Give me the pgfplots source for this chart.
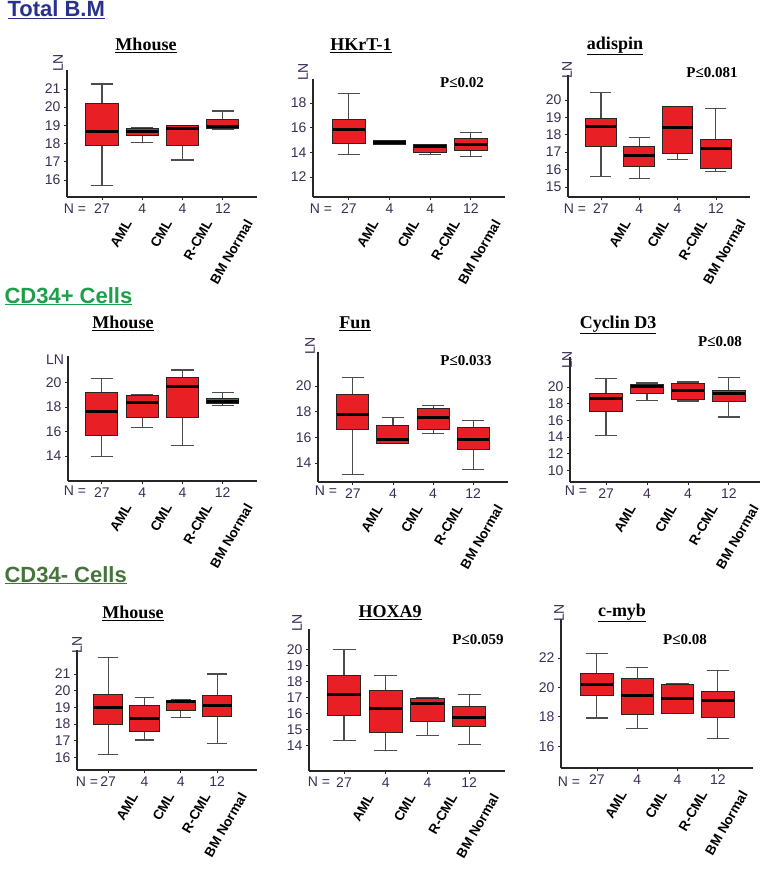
\documentclass[border=0pt]{standalone}
\usepackage{fontspec}
\setmainfont{Liberation Serif}
\setsansfont{Liberation Sans}
\usepackage{pgfplots}
\pgfplotsset{compat=1.18}
\usepgfplotslibrary{statistics}
\definecolor{boxred}{RGB}{232,32,38}
\definecolor{tickcol}{RGB}{60,45,85}
\definecolor{hblue}{RGB}{40,50,140}
\definecolor{hgreen}{RGB}{30,158,75}
\definecolor{holive}{RGB}{70,115,60}
\pgfplotsset{panel/.style={
 scale only axis, anchor=south west, clip=false,
 axis x line=bottom, axis y line=left,
 axis line style={-, line width=1.2pt, black!85},
 xtick={1,2,3,4}, xticklabels={27,4,4,12},
 tick align=outside, major tick length=3pt,
 every tick/.style={black!85, line width=0.8pt},
 tick label style={font=\fontsize{14}{14}\selectfont\sffamily, text=tickcol},
 /pgf/number format/assume math mode=true,
 extra x ticks={1,2,3,4},
 extra x tick labels={AML,CML,R-CML,BM Normal},
 extra x tick style={major tick length=0pt, xticklabel style={xshift=28pt, yshift=-21pt, rotate=60, anchor=east, font=\fontsize{13.5}{13.5}\selectfont\sffamily\bfseries, text=black}},
 boxplot/draw direction=y,
 boxplot/box extend=0.8, boxplot/whisker extend=0.55,
 boxplot/every box/.style={fill=boxred, draw=black!85, line width=1pt},
 boxplot/every median/.style={draw=black, line width=3pt},
 boxplot/every whisker/.style={draw=black!70, line width=1.1pt},
}}
\newcommand{\bx}[6]{\addplot[boxplot prepared={draw position=#1, lower whisker=#2, lower quartile=#3, median=#4, upper quartile=#5, upper whisker=#6}] coordinates {};}
\tikzset{ttl/.style={font=\fontsize{18}{18}\selectfont\bfseries},
 pv/.style={font=\fontsize{15}{15}\selectfont\bfseries},
 ln/.style={font=\fontsize{14}{14}\selectfont\sffamily, text=tickcol},
 nn/.style={font=\fontsize{14}{14}\selectfont\sffamily, text=tickcol}}
\begin{document}
\begin{tikzpicture}
\path[use as bounding box] (0pt,0pt) rectangle (763pt,-885pt);
% headings
\node[anchor=base west, font=\fontsize{22}{22}\selectfont\sffamily\bfseries, text=hblue] at (4pt,-17pt) {\underline{Total B.M}};
\node[anchor=base west, font=\fontsize{22}{22}\selectfont\sffamily\bfseries, text=hgreen] at (1pt,-303pt) {\underline{CD34+ Cells}};
\node[anchor=base west, font=\fontsize{22}{22}\selectfont\sffamily\bfseries, text=holive] at (1pt,-582pt) {\underline{CD34- Cells}};
% ---------- Row 1
\begin{axis}[panel, at={(67pt,-197pt)}, width=190pt, height=127pt,
 xmin=0.13, xmax=4.85, ymin=15.07, ymax=22.04, ytick={16,17,18,19,20,21}]
\bx{1}{15.71}{17.89}{18.64}{20.18}{21.27}
\bx{2}{18.05}{18.44}{18.64}{18.84}{18.88}
\bx{3}{17.10}{17.89}{18.84}{18.97}{19.00}
\bx{4}{18.80}{18.82}{18.95}{19.33}{19.79}
\end{axis}
\begin{axis}[panel, at={(313pt,-197pt)}, width=192pt, height=118pt,
 xmin=0.12, xmax=4.84, ymin=10.37, ymax=19.96, ytick={12,14,16,18}]
\bx{1}{13.85}{14.72}{15.87}{16.69}{18.76}
\bx{2}{14.67}{14.67}{14.81}{14.94}{14.94}
\bx{3}{13.85}{14.02}{14.45}{14.62}{14.62}
\bx{4}{13.63}{14.13}{14.64}{15.13}{15.60}
\end{axis}
\begin{axis}[panel, at={(568pt,-197pt)}, width=182pt, height=122pt,
 xmin=0.14, xmax=4.89, ymin=14.42, ymax=21.44, ytick={15,16,17,18,19,20}]
\bx{1}{15.58}{17.31}{18.46}{18.94}{20.42}
\bx{2}{15.48}{16.15}{16.81}{17.31}{17.85}
\bx{3}{16.60}{16.92}{18.40}{19.62}{19.62}
\bx{4}{15.88}{16.06}{17.21}{17.73}{19.52}
\end{axis}
% ---------- Row 2
\begin{axis}[panel, at={(68pt,-481pt)}, width=189pt, height=125pt,
 xmin=0.16, xmax=4.85, ymin=11.96, ymax=22.15, ytick={14,16,18,20}]
\bx{1}{13.95}{15.66}{17.61}{19.19}{20.28}
\bx{2}{16.34}{17.10}{18.38}{18.97}{18.97}
\bx{3}{14.84}{17.10}{19.65}{20.41}{21.01}
\bx{4}{18.08}{18.29}{18.43}{18.70}{19.16}
\end{axis}
\begin{axis}[panel, at={(318pt,-482pt)}, width=190pt, height=130pt,
 xmin=0.13, xmax=4.87, ymin=12.53, ymax=22.66, ytick={14,16,18,20}]
\bx{1}{13.10}{16.64}{17.80}{19.32}{20.67}
\bx{2}{15.55}{15.55}{15.86}{16.92}{17.57}
\bx{3}{16.33}{16.64}{17.54}{18.29}{18.52}
\bx{4}{13.48}{15.09}{15.83}{16.74}{17.33}
\end{axis}
\begin{axis}[panel, at={(570pt,-482pt)}, width=190pt, height=125pt,
 xmin=0.12, xmax=4.76, ymin=8.6, ymax=23.6, ytick={10,12,14,16,18,20}]
\bx{1}{14.16}{17.12}{18.60}{19.20}{21.00}
\bx{2}{18.40}{19.20}{20.08}{20.28}{20.48}
\bx{3}{18.32}{18.48}{19.60}{20.40}{20.60}
\bx{4}{16.40}{18.32}{19.20}{19.60}{21.12}
\end{axis}
% ---------- Row 3
\begin{axis}[panel, at={(77pt,-770pt)}, width=180pt, height=120pt,
 xmin=0.14, xmax=5.1, ymin=15.24, ymax=22.44, ytick={16,17,18,19,20,21}]
\bx{1}{16.18}{18.00}{18.98}{19.80}{21.98}
\bx{2}{17.04}{17.54}{18.34}{19.12}{19.58}
\bx{3}{18.40}{18.82}{19.34}{19.44}{19.44}
\bx{4}{16.82}{18.46}{19.10}{19.72}{21.00}
\end{axis}
\begin{axis}[panel, at={(309pt,-771pt)}, width=196pt, height=142pt,
 xmin=0.16, xmax=4.86, ymin=12.38, ymax=21.3, ytick={14,15,16,17,18,19,20}]
\bx{1}{14.29}{15.89}{17.16}{18.40}{20.00}
\bx{2}{13.68}{14.78}{16.29}{17.45}{18.38}
\bx{3}{14.59}{15.49}{16.63}{16.95}{16.99}
\bx{4}{14.06}{15.20}{15.75}{16.44}{17.18}
\end{axis}
\begin{axis}[panel, at={(561pt,-768pt)}, width=192pt, height=149pt,
 xmin=0.11, xmax=4.87, ymin=14.53, ymax=24.64, ytick={16,18,20,22}]
\bx{1}{17.92}{19.48}{20.19}{20.93}{22.33}
\bx{2}{17.20}{18.15}{19.48}{20.59}{21.34}
\bx{3}{18.26}{18.26}{19.24}{20.23}{20.23}
\bx{4}{16.54}{17.97}{19.10}{19.73}{21.16}
\end{axis}
% titles
\node[ttl] at (146pt,-45pt) {\underline{Mhouse}};
\node[ttl] at (361pt,-46pt) {\underline{HKrT-1}};
\node[ttl] at (615pt,-46pt) {\underline{adispin}};
\node[ttl] at (123pt,-323pt) {\underline{Mhouse}};
\node[ttl] at (355pt,-324pt) {\underline{Fun}};
\node[ttl] at (618pt,-325pt) {\underline{Cyclin D3}};
\node[ttl] at (133pt,-613pt) {\underline{Mhouse}};
\node[ttl] at (390pt,-613pt) {\underline{HOXA9}};
\node[ttl] at (622pt,-613pt) {\underline{c-myb}};
% p values
\node[pv] at (462pt,-83pt) {P≤0.02};
\node[pv] at (712pt,-73pt) {P≤0.081};
\node[pv] at (466pt,-361pt) {P≤0.033};
\node[pv] at (720pt,-342pt) {P≤0.08};
\node[pv] at (478pt,-640pt) {P≤0.059};
\node[pv] at (685pt,-640pt) {P≤0.08};
% LN labels
\node[ln, rotate=90] at (58pt,-63pt) {LN};
\node[ln, rotate=90] at (303pt,-72pt) {LN};
\node[ln, rotate=90] at (567pt,-70pt) {LN};
\node[ln] at (55pt,-360pt) {LN};
\node[ln, rotate=90] at (310pt,-346pt) {LN};
\node[ln, rotate=90] at (567pt,-360pt) {LN};
\node[ln, rotate=90] at (77pt,-645pt) {LN};
\node[ln, rotate=90] at (297pt,-623pt) {LN};
\node[ln, rotate=90] at (559pt,-613pt) {LN};
% N =
\node[nn] at (75pt,-209pt) {N =};
\node[nn] at (321pt,-209pt) {N =};
\node[nn] at (575pt,-209pt) {N =};
\node[nn] at (75pt,-491pt) {N =};
\node[nn] at (326pt,-491pt) {N =};
\node[nn] at (576pt,-491pt) {N =};
\node[nn] at (87pt,-782pt) {N =};
\node[nn] at (319pt,-782pt) {N =};
\node[nn] at (569pt,-782pt) {N =};
\end{tikzpicture}
\end{document}
